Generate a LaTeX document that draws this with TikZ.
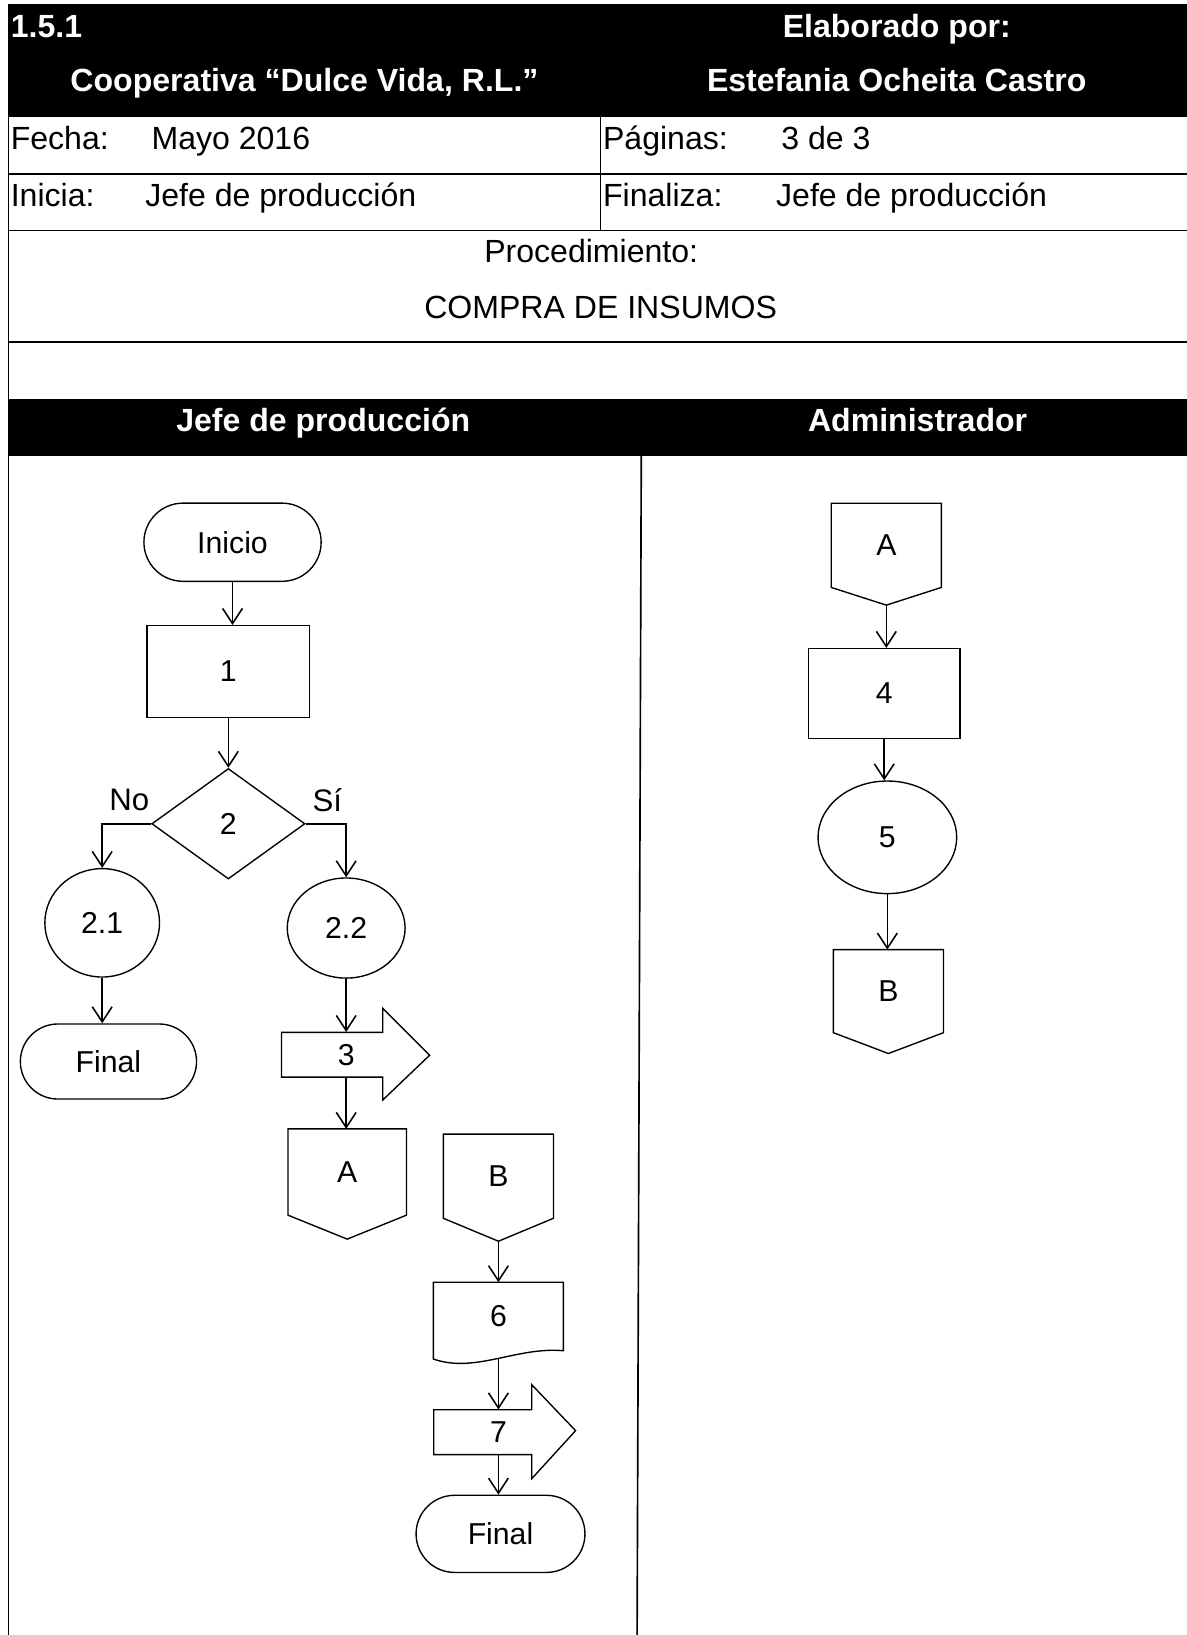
\documentclass[tikz,border=0pt]{standalone}
\usepackage{fontspec}
\setmainfont{Liberation Sans}
\usetikzlibrary{shapes.geometric,shapes.misc,arrows.meta,calc}

\tikzset{
  tbl/.style={line width=0.9pt},
  hdr/.style={anchor=base,text=white,font=\fontsize{17.5}{21}\selectfont\bfseries,inner sep=0pt},
  cell/.style={anchor=base west,font=\fontsize{17.5}{21}\selectfont,inner sep=0pt},
  shp/.style={line width=0.75pt},
  lbl/.style={font=\fontsize{16.5}{20}\selectfont,inner sep=0pt},
  term/.style={shp,draw,rounded rectangle,lbl},
  proc/.style={shp,draw,rectangle,lbl},
  dec/.style={shp,draw,diamond,lbl},
  circ/.style={shp,draw,ellipse,lbl},
  conn/.style={lbl},
  flow/.style={line width=0.85pt,-{Straight Barb[length=2.9mm,width=3.8mm]}},
}

\begin{document}
\begin{tikzpicture}[x=0.02cm,y=-0.02cm]
\useasboundingbox (0,0) rectangle (1138,1568);
\fill[black] (8,5) rectangle (1138,112);
\fill[black] (8,383) rectangle (1138,437);
\draw[tbl] (8,5) -- (1138,5);
\draw[tbl] (8,5) -- (8,1568);
\draw[tbl] (8,167) -- (1138,167);
\draw[tbl] (8,221) -- (1138,221);
\draw[tbl] (8,328) -- (1138,328);
\draw[tbl] (576,112) -- (576,221);
\draw[tbl] (615,437) -- (611,1568);

\node[hdr,anchor=base west] (num) at (10,36) {1.5.1};
\node[hdr] (elab) at (860,36) {Elaborado por:};
\node[hdr] (coop) at (292,88) {Cooperativa “Dulce Vida, R.L.”};
\node[hdr] (autor) at (860,88) {Estefania Ocheita Castro};
\node[cell] (fecha) at (10,143) {Fecha:};
\node[cell] (mayo) at (145,143) {Mayo 2016};
\node[cell] (pag) at (578,143) {Páginas:};
\node[cell] (pagnum) at (749,143) {3 de 3};
\node[cell] (inicia) at (10,198) {Inicia:};
\node[cell] (jefe1) at (139,198) {Jefe de producción};
\node[cell] (finaliza) at (578,198) {Finaliza:};
\node[cell] (jefe2) at (744,198) {Jefe de producción};
\node[cell,anchor=base] (proced) at (567,252) {Procedimiento:};
\node[cell,anchor=base] (compra) at (576,305) {COMPRA DE INSUMOS};
\node[hdr] (lane1) at (310,414) {Jefe de producción};
\node[hdr] (lane2) at (880,414) {Administrador};

\node[term,minimum width=3.4cm,minimum height=1.5cm] (inicio) at (223,520) {Inicio};
\node[proc,minimum width=3.12cm,minimum height=1.76cm] (p1) at (219,644) {1};
\node[dec,minimum width=2.94cm,minimum height=2.12cm] (d2) at (219,790) {2};
\node[lbl,font=\fontsize{17}{20}\selectfont] (no) at (124,767) {No};
\node[lbl,font=\fontsize{17}{20}\selectfont] (si) at (314,767) {Sí};
\node[circ,minimum width=2.2cm,minimum height=2.08cm] (c21) at (98,885) {2.1};
\node[term,minimum width=3.38cm,minimum height=1.44cm] (fin1) at (104,1018) {Final};
\node[circ,minimum width=2.26cm,minimum height=1.92cm] (c22) at (332,890) {2.2};
\draw[shp] (270,990) -- (367,990) -- (367,967) -- (412,1012) -- (367,1055) -- (367,1033) -- (270,1033) -- cycle;
\node[conn,minimum height=0.86cm] (p3) at (332,1011.5) {3};
\node[conn,minimum width=2.26cm,minimum height=1.64cm] (a1) at (333,1124) {A};
\coordinate (a1tip) at ($(a1.south)+(0,23)$);
\draw[shp] (a1.north west) -- (a1.north east) -- (a1.south east) -- (a1tip) -- (a1.south west) -- cycle;
\node[conn,minimum width=2.1cm,minimum height=1.6cm] (b1) at (478,1128) {B};
\coordinate (b1tip) at ($(b1.south)+(0,22)$);
\draw[shp] (b1.north west) -- (b1.north east) -- (b1.south east) -- (b1tip) -- (b1.south west) -- cycle;
\node[conn,minimum width=2.48cm,minimum height=1.3cm] (p6) at (478,1262.5) {6};
\coordinate (p6w) at ($(p6.south)+(0,7)$);
\draw[shp] (p6.north west) -- (p6.north east) -- (p6.south east) .. controls ($(p6.south east)+(-45,-4)$) and ($(p6.south west)+(40,22)$) .. ($(p6.south west)+(0,8)$) -- cycle;
\draw[shp] (416,1352) -- (510,1352) -- (510,1328) -- (552,1372) -- (510,1418) -- (510,1395) -- (416,1395) -- cycle;
\node[conn,minimum height=0.86cm] (p7) at (478,1373.5) {7};
\node[term,minimum width=3.24cm,minimum height=1.48cm] (fin2) at (480,1471) {Final};

\node[conn,minimum width=2.1cm,minimum height=1.6cm] (a2) at (850,523) {A};
\coordinate (a2tip) at ($(a2.south)+(0,17)$);
\draw[shp] (a2.north west) -- (a2.north east) -- (a2.south east) -- (a2tip) -- (a2.south west) -- cycle;
\node[proc,minimum width=2.9cm,minimum height=1.72cm] (p4) at (848,665) {4};
\node[circ,minimum width=2.66cm,minimum height=2.16cm] (c5) at (851,803) {5};
\node[conn,minimum width=2.1cm,minimum height=1.58cm] (b2) at (852,950.5) {B};
\coordinate (b2tip) at ($(b2.south)+(0,20)$);
\draw[shp] (b2.north west) -- (b2.north east) -- (b2.south east) -- (b2tip) -- (b2.south west) -- cycle;

\draw[flow] (inicio.south) -- (inicio.south |- p1.north);
\draw[flow] (p1.south) -- (p1.south |- d2.north);
\draw[flow] (d2.west) -| (c21.north);
\draw[flow] (d2.east) -| (c22.north);
\draw[flow] (c21.south) -- (c21.south |- fin1.north);
\draw[flow] (c22.south) -- (c22.south |- p3.north);
\draw[flow] (p3.south) -- (p3.south |- a1.north);
\draw[flow] (b1tip) -- (b1tip |- p6.north);
\draw[flow] (p6w) -- (p6w |- p7.north);
\draw[flow] (p7.south) -- (p7.south |- fin2.north);
\draw[flow] (a2tip) -- (a2tip |- p4.north);
\draw[flow] (p4.south) -- (p4.south |- c5.north);
\draw[flow] (c5.south) -- (c5.south |- b2.north);
\end{tikzpicture}
\end{document}
